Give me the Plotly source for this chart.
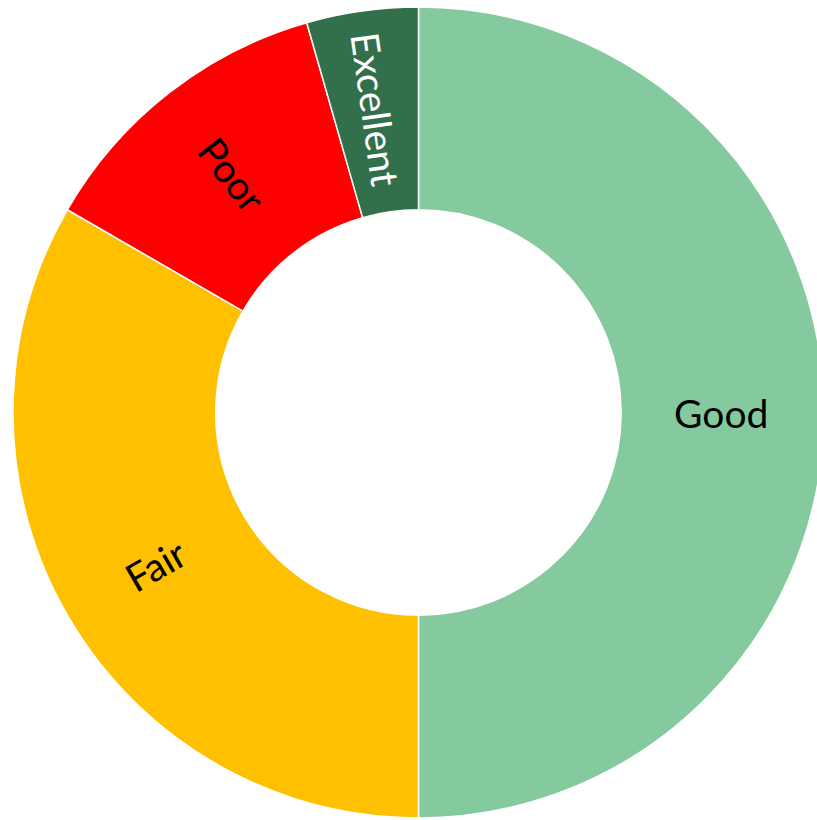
import math
import plotly.graph_objects as go

# Condition ratings, clockwise from 12 o'clock
labels = ["Good", "Fair", "Poor", "Excellent"]
counts = [45, 30, 11, 4]
colors = ["#85C99E", "#FFC000", "#FF0000", "#31704A"]
text_colors = ["#000000", "#000000", "#000000", "#FFFFFF"]

W, H = 830, 820
FONT = "Lato"
FSIZE = 39

# Pie box (pixels): left, right, top, bottom
box_l, box_r, box_t, box_b = 13, 824, 7, 818
hole = 0.5

# "Fair" is placed as a rotated annotation along its slice's radius
shown = [lab if lab != "Fair" else "" for lab in labels]

fig = go.Figure(
    go.Pie(
        labels=labels,
        values=counts,
        text=shown,
        sort=False,
        direction="clockwise",
        rotation=0,
        hole=hole,
        marker=dict(colors=colors, line=dict(color="#FFFFFF", width=1.5)),
        textinfo="text",
        textposition="inside",
        insidetextorientation="radial",
        insidetextfont=dict(family=FONT, size=FSIZE, color=text_colors),
        hoverinfo="label+value+percent",
        showlegend=False,
        domain=dict(x=[box_l / W, box_r / W], y=[1 - box_b / H, 1 - box_t / H]),
    )
)

# Mid-angle of the Fair slice, measured clockwise from 12 o'clock
total = sum(counts)
i = labels.index("Fair")
start = sum(counts[:i]) / total * 360
mid = start + counts[i] / total * 360 / 2
cx = (box_l + box_r) / 2
cy = (box_t + box_b) / 2
r_out = min(box_r - box_l, box_b - box_t) / 2
r_mid = r_out * (1 + hole) / 2
px = cx + r_mid * math.sin(math.radians(mid))
py = cy - r_mid * math.cos(math.radians(mid))

fig.add_annotation(
    x=px / W,
    y=1 - py / H,
    xref="paper",
    yref="paper",
    text="Fair",
    showarrow=False,
    textangle=mid - 270,
    font=dict(family=FONT, size=FSIZE, color=text_colors[i]),
    xanchor="center",
    yanchor="middle",
)

fig.update_layout(
    width=W,
    height=H,
    margin=dict(l=0, r=0, t=0, b=0),
    paper_bgcolor="#FFFFFF",
    plot_bgcolor="#FFFFFF",
)

fig.write_html(
    "out.html",
    post_script="document.body.style.margin='0';document.body.style.overflow='hidden';",
)
